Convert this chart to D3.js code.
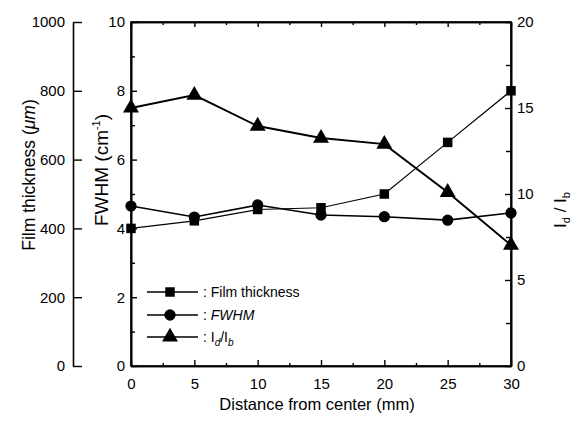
<!DOCTYPE html>
<html><head><meta charset="utf-8">
<script src="https://cdn.jsdelivr.net/npm/d3@7/dist/d3.min.js"></script>
<style>body{margin:0;background:#fff}svg{display:block}text{font-family:"Liberation Sans",Arial,sans-serif;fill:#000}</style>
</head><body><div id="chart"></div>
<script>
const distance = [0, 5, 10, 15, 20, 25, 30];
const filmThickness = [400, 422, 455, 460, 500, 650, 800];
const fwhm = [4.65, 4.33, 4.68, 4.39, 4.34, 4.24, 4.45];
const ratio = [15.0, 15.75, 13.95, 13.25, 12.9, 10.1, 7.03];
const xTicks = [0, 5, 10, 15, 20, 25, 30];
const filmTicks = [0, 200, 400, 600, 800, 1000];
const fwhmTicks = [0, 2, 4, 6, 8, 10];
const ratioTicks = [0, 5, 10, 15, 20];

const W = 572, H = 425;
const L = 131, R = 511, T = 22, B = 366, FL = 73;
const svg = d3.select("#chart").append("svg").attr("width", W).attr("height", H);

const x = d3.scaleLinear().domain([0, 30]).range([L, R]);
const yF = d3.scaleLinear().domain([0, 10]).range([B, T]);
const yT = d3.scaleLinear().domain([0, 1000]).range([B, T]);
const yR = d3.scaleLinear().domain([0, 20]).range([B, T]);

const stroke = "#000";
svg.append("rect").attr("x", L).attr("y", T).attr("width", R - L).attr("height", B - T)
  .attr("fill", "none").attr("stroke", stroke).attr("stroke-width", 1.6);

// bottom axis
svg.append("g").attr("transform", `translate(0,${B})`)
  .call(d3.axisBottom(x).tickValues(xTicks).tickSize(-6).tickSizeOuter(0).tickPadding(12).tickFormat(d3.format("d")));
svg.append("g").attr("transform", `translate(0,${B})`)
  .call(d3.axisBottom(x).tickValues(d3.range(2.5, 30, 5)).tickSize(-3).tickSizeOuter(0).tickFormat(""));
// top ticks
svg.append("g").attr("transform", `translate(0,${T})`)
  .call(d3.axisTop(x).tickValues(xTicks).tickSize(-5).tickSizeOuter(0).tickFormat(""));
svg.append("g").attr("transform", `translate(0,${T})`)
  .call(d3.axisTop(x).tickValues(d3.range(2.5, 30, 5)).tickSize(-3).tickSizeOuter(0).tickFormat(""));

// left FWHM axis
svg.append("g").attr("transform", `translate(${L},0)`)
  .call(d3.axisLeft(yF).tickValues(fwhmTicks).tickSize(-6).tickSizeOuter(0).tickPadding(6).tickFormat(d3.format("d")));
svg.append("g").attr("transform", `translate(${L},0)`)
  .call(d3.axisLeft(yF).tickValues([1, 3, 5, 7, 9]).tickSize(-4).tickSizeOuter(0).tickFormat(""));

// right ratio axis
svg.append("g").attr("transform", `translate(${R},0)`)
  .call(d3.axisRight(yR).tickValues(ratioTicks).tickSize(-6).tickSizeOuter(0).tickPadding(6).tickFormat(d3.format("d")));
svg.append("g").attr("transform", `translate(${R},0)`)
  .call(d3.axisRight(yR).tickValues([2.5, 7.5, 12.5, 17.5]).tickSize(-5).tickSizeOuter(0).tickFormat(""));

// far-left film thickness axis
svg.append("g").attr("transform", `translate(${FL},0)`)
  .call(d3.axisLeft(yT).tickValues(filmTicks).tickSize(-9).tickSizeOuter(0).tickPadding(8).tickFormat(d3.format("d")));

svg.selectAll(".domain").attr("stroke", stroke).attr("stroke-width", 1.6);
svg.selectAll(".tick line").attr("stroke", stroke).attr("stroke-width", 1.4);
svg.selectAll(".tick text").attr("font-size", 15).attr("font-family", "Liberation Sans, Arial, sans-serif");

// series lines
const lineT = d3.line().x((d, i) => x(distance[i])).y(d => yT(d));
const lineF = d3.line().x((d, i) => x(distance[i])).y(d => yF(d));
const lineR = d3.line().x((d, i) => x(distance[i])).y(d => yR(d));
svg.append("path").datum(filmThickness).attr("d", lineT).attr("fill", "none").attr("stroke", stroke).attr("stroke-width", 1.2);
svg.append("path").datum(fwhm).attr("d", lineF).attr("fill", "none").attr("stroke", stroke).attr("stroke-width", 1.6);
svg.append("path").datum(ratio).attr("d", lineR).attr("fill", "none").attr("stroke", stroke).attr("stroke-width", 2);

const sq = d3.symbol().type(d3.symbolSquare).size(90);
const ci = d3.symbol().type(d3.symbolCircle).size(100);
const tr = d3.symbol().type(d3.symbolTriangle).size(110);
svg.append("g").selectAll("path").data(filmThickness).join("path")
  .attr("d", sq).attr("transform", (d, i) => `translate(${x(distance[i])},${yT(d)})`);
svg.append("g").selectAll("path").data(fwhm).join("path")
  .attr("d", ci).attr("transform", (d, i) => `translate(${x(distance[i])},${yF(d)})`);
svg.append("g").selectAll("path").data(ratio).join("path")
  .attr("d", tr).attr("transform", (d, i) => `translate(${x(distance[i])},${yR(d)})`);

// axis titles
svg.append("text").attr("transform", `translate(317,410)`).attr("text-anchor", "middle")
  .attr("font-size", 16.5).text("Distance from center (mm)");
const t1 = svg.append("text").attr("transform", `translate(35,175) rotate(-90)`).attr("text-anchor", "middle").attr("font-size", 17.5);
t1.append("tspan").text("Film thickness (");
t1.append("tspan").attr("font-style", "italic").text("μm");
t1.append("tspan").text(")");
const t2 = svg.append("text").attr("transform", `translate(108,170) rotate(-90)`).attr("text-anchor", "middle").attr("font-size", 19);
t2.append("tspan").text("FWHM (cm");
t2.append("tspan").attr("dy", -8).attr("font-size", 11).text("-1");
t2.append("tspan").attr("dy", 8).text(")");
const t3 = svg.append("text").attr("transform", `translate(566,210) rotate(-90)`).attr("text-anchor", "middle").attr("font-size", 17);
t3.append("tspan").text("I");
t3.append("tspan").attr("dy", 4).attr("font-size", 11).text("d");
t3.append("tspan").attr("dy", -4).text(" / I");
t3.append("tspan").attr("dy", 4).attr("font-size", 11).text("b");

// legend
const legendItems = [
  { sym: sq, label: "Film thickness", italic: false },
  { sym: ci, label: "FWHM", italic: true },
  { sym: tr, label: null, italic: false }
];
const legendY = [292, 315, 337];
legendItems.forEach((it, i) => {
  const y = legendY[i];
  const g = svg.append("g");
  g.append("line").attr("x1", 147).attr("x2", 198).attr("y1", y).attr("y2", y).attr("stroke", stroke).attr("stroke-width", 1.3);
  g.append("path").attr("d", it.sym).attr("transform", `translate(170,${y})`);
  const t = g.append("text").attr("x", 203).attr("y", y + 5).attr("font-size", 14);
  if (it.label) {
    t.append("tspan").text(": ");
    t.append("tspan").attr("font-style", it.italic ? "italic" : "normal").text(it.label);
  } else {
    t.append("tspan").text(": I");
    t.append("tspan").attr("dy", 4).attr("font-size", 10).attr("font-style", "italic").text("d");
    t.append("tspan").attr("dy", -4).text("/I");
    t.append("tspan").attr("dy", 4).attr("font-size", 10).attr("font-style", "italic").text("b");
  }
});
</script></body></html>
